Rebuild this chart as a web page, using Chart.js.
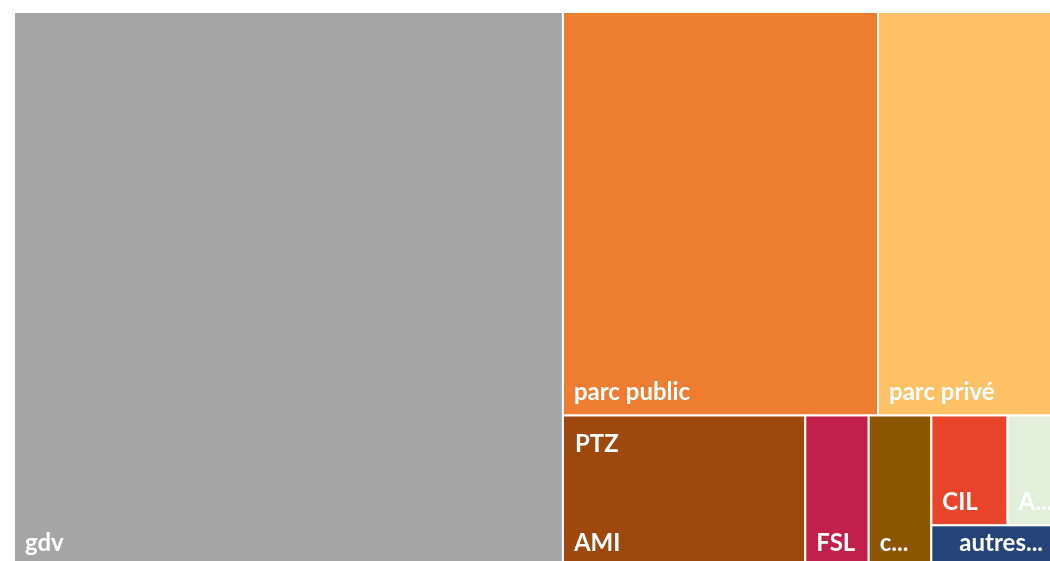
<!DOCTYPE html>
<html>
<head>
<meta charset="utf-8">
<script src="https://cdn.jsdelivr.net/npm/chart.js@4/dist/chart.umd.min.js"></script>
<style>
  html, body { margin: 0; padding: 0; background: #ffffff; overflow: hidden; }
  #wrap { width: 1072px; height: 567px; position: relative; }
</style>
</head>
<body>
<div id="wrap"><canvas id="c" width="1072" height="567"></canvas></div>
<script>
// ---- data (share of total, %) ----
const categories = ['gdv', 'parc public', 'parc privé', 'AMI', 'FSL', 'c...', 'CIL', 'A...', 'autres...'];
const groupLabels = ['', '', '', 'PTZ', '', '', '', '', ''];
const values = [51.94, 21.71, 13.30, 6.23, 1.63, 1.61, 1.43, 1.19, 0.97];
// number of consecutive items laid out in each strip of the treemap
const stripCounts = [1, 2, 1, 1, 1, 2, 1];

// ---- styles ----
const colors = ['#A5A5A5', '#ED7D31', '#FFC165', '#9E480E', '#C0204A', '#8C5600', '#E8452A', '#E2EFDA', '#264478'];
const labelAlign = ['left', 'left', 'left', 'left', 'left', 'left', 'left', 'left', 'center'];

function computeLayout(vals, strips, aspect) {
  let x = 0, y = 0, w = 1, h = 1;
  let remaining = vals.reduce((a, b) => a + b, 0);
  const rects = [];
  let i = 0;
  for (const n of strips) {
    const group = vals.slice(i, i + n);
    const gsum = group.reduce((a, b) => a + b, 0);
    const frac = gsum / remaining;
    if (w * aspect >= h) {
      const cw = w * frac;
      let yy = y;
      for (const v of group) {
        const hh = h * v / gsum;
        rects.push({ x0: x, x1: x + cw, y0: yy, y1: yy + hh });
        yy += hh;
      }
      x += cw; w -= cw;
    } else {
      const rh = h * frac;
      let xx = x;
      for (const v of group) {
        const ww = w * v / gsum;
        rects.push({ x0: xx, x1: xx + ww, y0: y, y1: y + rh });
        xx += ww;
      }
      y += rh; h -= rh;
    }
    remaining -= gsum;
    i += n;
  }
  return rects;
}

const treemapPlugin = {
  id: 'treemap',
  afterDatasetsDraw(chart) {
    const ctx = chart.ctx;
    const xs = chart.scales.x, ys = chart.scales.y;
    const area = chart.chartArea;
    const aspect = (area.right - area.left) / (area.bottom - area.top);
    const rects = computeLayout(values, stripCounts, aspect);
    ctx.save();
    rects.forEach((r, k) => {
      const px0 = xs.getPixelForValue(r.x0), px1 = xs.getPixelForValue(r.x1);
      const py0 = ys.getPixelForValue(r.y0), py1 = ys.getPixelForValue(r.y1);
      ctx.fillStyle = colors[k];
      ctx.fillRect(px0, py0, px1 - px0, py1 - py0);
      ctx.strokeStyle = '#ffffff';
      ctx.lineWidth = 2;
      ctx.strokeRect(px0, py0, px1 - px0, py1 - py0);
    });
    ctx.font = 'bold 24px Lato';
    ctx.fillStyle = '#ffffff';
    rects.forEach((r, k) => {
      const px0 = xs.getPixelForValue(r.x0), px1 = xs.getPixelForValue(r.x1);
      const py0 = ys.getPixelForValue(r.y0), py1 = ys.getPixelForValue(r.y1);
      ctx.save();
      ctx.beginPath();
      ctx.rect(px0, py0, px1 - px0, py1 - py0);
      ctx.clip();
      ctx.textBaseline = 'alphabetic';
      if (labelAlign[k] === 'center') {
        ctx.textAlign = 'center';
        ctx.fillText(categories[k], (px0 + px1) / 2, py1 - 15);
      } else {
        ctx.textAlign = 'left';
        ctx.fillText(categories[k], px0 + 11, py1 - 15);
      }
      if (groupLabels[k]) {
        ctx.textAlign = 'left';
        ctx.fillText(groupLabels[k], px0 + 12, py0 + 37);
      }
      ctx.restore();
    });
    ctx.restore();
  }
};

new Chart(document.getElementById('c'), {
  type: 'scatter',
  data: { datasets: [{ label: 'part', data: [], pointRadius: 0 }] },
  options: {
    responsive: false,
    animation: false,
    layout: { padding: { left: 14, top: 12, right: 1, bottom: 1 } },
    plugins: { legend: { display: false }, tooltip: { enabled: false } },
    scales: {
      x: { type: 'linear', min: 0, max: 1, display: false },
      y: { type: 'linear', min: 0, max: 1, reverse: true, display: false }
    }
  },
  plugins: [treemapPlugin]
});
</script>
</body>
</html>
